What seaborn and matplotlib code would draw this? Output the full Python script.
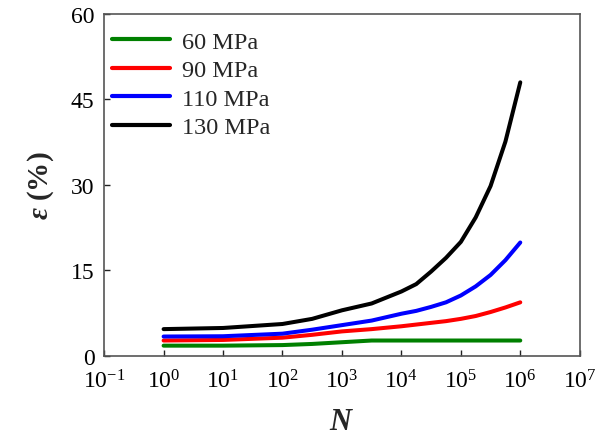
import numpy as np
import pandas as pd
import matplotlib
matplotlib.use("Agg")
import matplotlib.pyplot as plt
import seaborn as sns
from matplotlib.ticker import FixedLocator

# Data
cycles = [1, 10, 100, 316, 1000, 3162, 10000, 17783, 31623, 56234,
          100000, 177828, 316228, 562341, 1000000]
eps_60 = [1.8, 1.8, 1.9, 2.1, 2.4, 2.7, 2.7, 2.7, 2.7, 2.7, 2.7, 2.7, 2.7, 2.7, 2.7]
eps_90 = [2.7, 2.8, 3.2, 3.7, 4.3, 4.7, 5.2, 5.5, 5.8, 6.1, 6.5, 7.0, 7.7, 8.5, 9.4]
eps_110 = [3.4, 3.45, 3.9, 4.6, 5.4, 6.2, 7.4, 7.9, 8.6, 9.4, 10.6, 12.2, 14.2, 16.8, 19.9]
eps_130 = [4.7, 4.9, 5.6, 6.5, 8.0, 9.2, 11.3, 12.6, 14.8, 17.2, 20.0, 24.3, 29.8, 37.6, 48.0]
labels = ["60 MPa", "90 MPa", "110 MPa", "130 MPa"]
colors = ["#008000", "#ff0000", "#0000ff", "#000000"]
xtick_exps = [-1, 0, 1, 2, 3, 4, 5, 6, 7]
yticks = [0, 15, 30, 45, 60]

frames = []
for lab, vals in zip(labels, [eps_60, eps_90, eps_110, eps_130]):
    frames.append(pd.DataFrame({"N": cycles, "eps": vals, "stress": lab}))
df = pd.concat(frames, ignore_index=True)

sns.set_style("ticks")
plt.rcParams["font.family"] = ["Liberation Serif", "DejaVu Serif"]
plt.rcParams["mathtext.fontset"] = "custom"
plt.rcParams["mathtext.rm"] = "Liberation Serif"
plt.rcParams["mathtext.it"] = "Liberation Serif:italic"
plt.rcParams["mathtext.bf"] = "Liberation Serif:bold"
plt.rcParams["mathtext.bfit"] = "Liberation Serif:bold:italic"

fig = plt.figure(figsize=(6.02, 4.39), dpi=100)
ax = fig.add_axes([0.173, 0.187, 0.79, 0.779])

sns.lineplot(data=df, x="N", y="eps", hue="stress", palette=colors,
             hue_order=labels, linewidth=2.9, ax=ax, sort=False)
for ln in ax.get_lines():
    ln.set_solid_capstyle("round")
    ln.set_solid_joinstyle("round")

ax.set_xscale("log")
ax.set_xlim(0.1, 1e7)
ax.set_ylim(0, 60)
ax.xaxis.set_major_locator(FixedLocator([10.0**k for k in xtick_exps]))
ax.set_xticklabels([r"10$^{%d}$" % k for k in xtick_exps])
ax.xaxis.set_minor_locator(FixedLocator([]))
ax.set_yticks(yticks)

ax.tick_params(direction="in", length=4, width=1, labelsize=17, colors="#222222",
               labelcolor="black", pad=7)
ax.tick_params(axis="x", pad=10)
for s in ax.spines.values():
    s.set_color("#555555")
    s.set_linewidth(1.2)

ax.set_xlabel(r"$\mathbfit{N}$", fontsize=22, labelpad=10)
ax.set_ylabel(r"$\mathbfit{\varepsilon}$ (%)", fontsize=21, fontweight="bold", labelpad=11)

leg = ax.legend(loc="upper left", bbox_to_anchor=(0.0, 0.975), frameon=False,
                fontsize=17.5, handlelength=2.39, handletextpad=0.5,
                labelspacing=0.27, borderaxespad=0.0, borderpad=0.33)
for h in leg.get_lines():
    h.set_linewidth(3)
    h.set_solid_capstyle("round")

fig.savefig("out.png", dpi=100)
